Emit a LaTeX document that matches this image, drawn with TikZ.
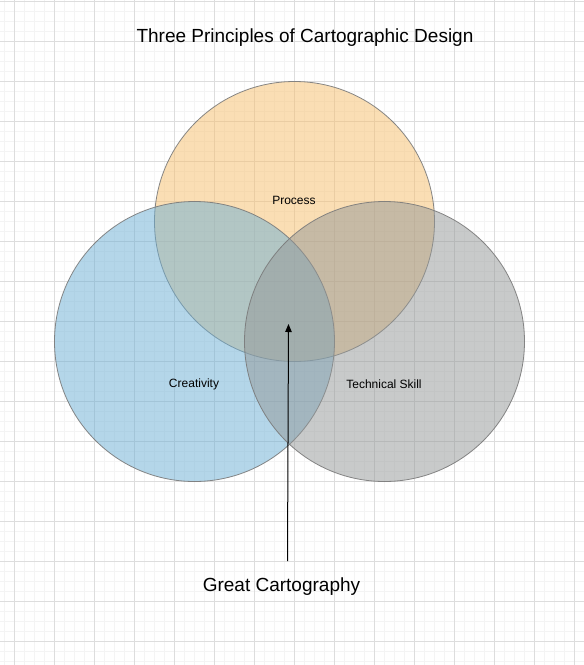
\documentclass[tikz,border=0pt]{standalone}
\usepackage{fontspec}
\setmainfont{Liberation Sans}
\usetikzlibrary{arrows.meta}
\definecolor{gridminor}{HTML}{F4F4F4}
\definecolor{gridmajor}{HTML}{DDDDDD}
\definecolor{procfill}{HTML}{F7BF6B}
\definecolor{creafill}{HTML}{6BAFD5}
\definecolor{techfill}{HTML}{939797}
\definecolor{ringline}{HTML}{7A7A7A}
\tikzset{
  setcircle/.style={circle, minimum size=280pt, inner sep=0pt, draw=ringline,
    line width=0.8pt, fill opacity=0.5, draw opacity=0.9},
  setlabel/.style={font=\fontsize{12}{14}\selectfont, text=black},
  heading/.style={font=\fontsize{19}{22}\selectfont, text=black},
  pointer/.style={line width=1pt, -{Triangle[length=8pt,width=6.5pt]}}
}
\begin{document}
\begin{tikzpicture}[x=1pt,y=-1pt]
  \useasboundingbox (0,0) rectangle (584,665);
  \fill[white] (0,0) rectangle (584,665);
  % background grid
  \foreach \g in {4.5,14.5,...,584} \draw[gridminor, line width=0.7pt] (\g,0) -- (\g,665);
  \foreach \g in {1,11,...,665} \draw[gridminor, line width=0.7pt] (0,\g) -- (584,\g);
  \foreach \g in {14.5,54.5,...,584} \draw[gridmajor, line width=0.8pt] (\g,0) -- (\g,665);
  \foreach \g in {1,41,...,665} \draw[gridmajor, line width=0.8pt] (0,\g) -- (584,\g);

  % the three sets
  \node[setcircle, fill=procfill] (process) at (294.5,221.5) {};
  \node[setcircle, fill=creafill] (creativity) at (194.5,341.5) {};
  \node[setcircle, fill=techfill] (technical) at (384.5,341.5) {};

  \node[setlabel] (processlabel) at (294,200.5) {Process};
  \node[setlabel] (creativitylabel) at (194,384.5) {Creativity};
  \node[setlabel] (technicallabel) at (384,384.5) {Technical Skill};

  \node[heading] (title) at (305,37.5) {Three Principles of Cartographic Design};
  \node[heading] (result) at (281.5,587) {Great Cartography};

  \coordinate (arrowstart) at (287.5,561);
  \coordinate (centre) at (288.5,324);
  \draw[pointer] (arrowstart) -- (centre);
\end{tikzpicture}
\end{document}
